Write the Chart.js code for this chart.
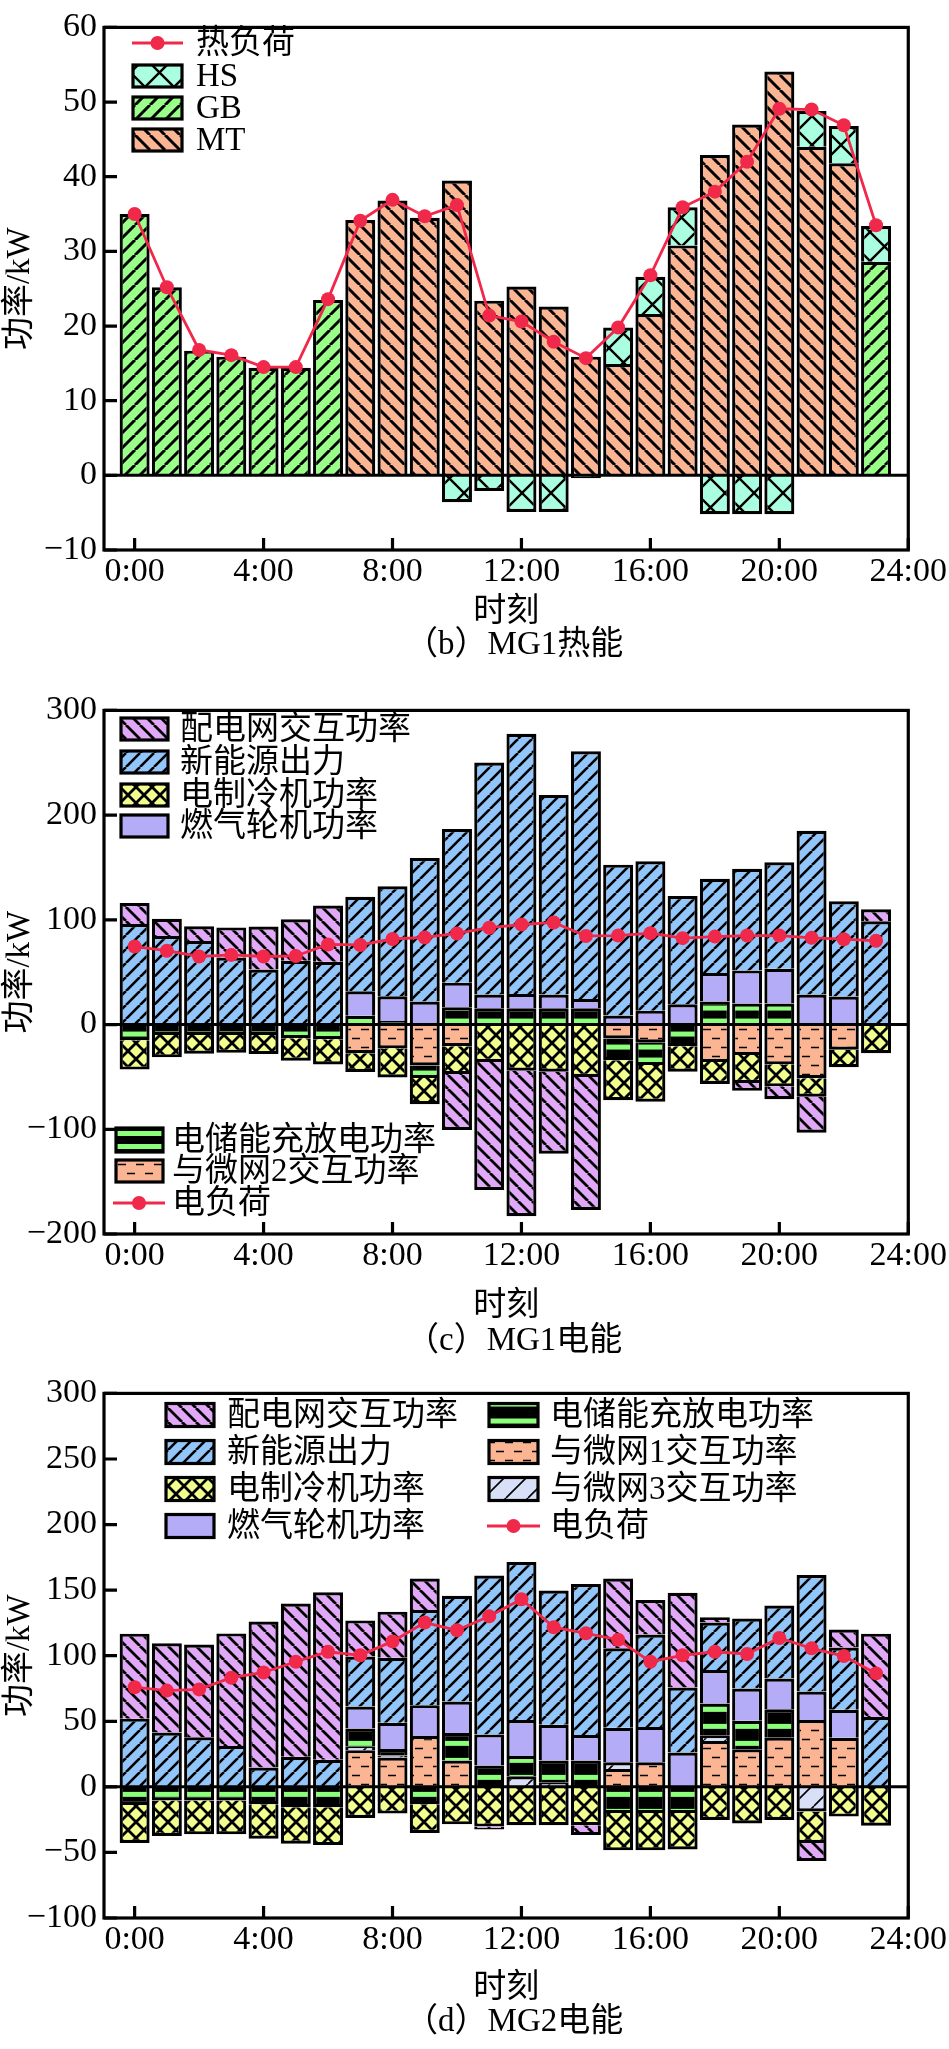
<!DOCTYPE html>
<html>
<head>
<meta charset="utf-8">
<script src="https://cdn.jsdelivr.net/npm/chart.js@4.4.0/dist/chart.umd.min.js"></script>
<style>
  html, body { margin: 0; padding: 0; background: #fff; }
  #wrap { position: relative; width: 949px; height: 2049px; }
  canvas { position: absolute; left: 0; }
</style>
</head>
<body>
<div id="wrap">
  <canvas id="chartB" width="949" height="683" style="top:0"></canvas>
  <canvas id="chartC" width="949" height="683" style="top:683px"></canvas>
  <canvas id="chartD" width="949" height="683" style="top:1366px"></canvas>
</div>
<script>
'use strict';

// ---- data ----
const hours  = [0,1,2,3,4,5,6,7,8,9,10,11,12,13,14,15,16,17,18,19,20,21,22,23];
const xTicks = [0, 4, 8, 12, 16, 20, 24];

// (b) MG1 heat
const yTicksB  = [-10, 0, 10, 20, 30, 40, 50, 60];
const gbHeat   = [35.0, 25.2, 16.7, 15.9, 14.4, 14.4, 23.5, 0, 0, 0, 0, 0, 0, 0, 0, 0, 0, 0, 0, 0, 0, 0, 0, 28.6];
const mtHeat   = [0, 0, 0, 0, 0, 0, 0, 34.2, 36.8, 34.5, 39.5, 23.4, 25.3, 22.6, 15.9, 14.9, 21.6, 30.8, 42.9, 47.0, 54.1, 44.0, 41.8, 0];
const hsHeat   = [0, 0, 0, 0, 0, 0, 0, 0, 0, 0, -3.6, -2.1, -4.9, -4.9, -0.4, 4.9, 5.0, 5.1, -5.2, -5.2, -5.2, 4.8, 5.0, 4.8];
const heatLoad = [35.0, 25.2, 16.8, 16.1, 14.5, 14.5, 23.6, 34.1, 36.9, 34.7, 36.2, 21.4, 20.6, 17.9, 15.7, 19.8, 26.8, 35.9, 38.0, 42.0, 49.1, 49.0, 46.9, 33.5];

// (c) MG1 electricity
const yTicksC    = [-200, -100, 0, 100, 200, 300];
const mg1Ex2     = [0, 0, 0, 0, 0, 0, 0, -27.3, -22.7, -39.0, -20.7, 0, 0, 0, 0, -13.3, -17.0, 0, -35.7, -29.0, -38.0, -51.3, -24.0, 0];
const mg1Storage = [-15, -10, -10, -10, -10, -13, -14, 8.4, 3.5, -12, 16.5, 15.5, 15.5, 15.5, 15.5, -20.7, -21.7, -20.7, 22, 20, 20, 0, 0, 0];
const mg1Chiller = [-28, -21.3, -17.8, -17, -18.2, -21.5, -24.2, -18, -27.9, -25, -26.6, -35.7, -44, -45, -50, -38.3, -35, -24.3, -21, -26.7, -21, -17.7, -16.7, -27.3];
const mg1Gt      = [0, 0, 0, 0, 0, 0, 0, 23.3, 23.5, 22, 23.5, 13.2, 13.8, 13.2, 8.8, 8.7, 13.3, 19.3, 27.3, 31.7, 33.3, 28.7, 26.7, 0];
const mg1Renew   = [96, 84.5, 79.8, 64, 52.5, 61, 60, 90.3, 105, 137, 146.7, 221.6, 248.4, 190.6, 236.7, 144, 142.7, 103.4, 90, 97, 101.7, 156.3, 91, 98.7];
const mg1Grid    = [20, 16.5, 14, 28.8, 41.1, 39.5, 53.6, 0, 0, 0, -53.4, -122.3, -139, -78.3, -127, 0, 0, 0, 0, -7.6, -12.3, -34.3, 0, 11.3];
const mg1Load    = [74.5, 70.5, 65, 66.5, 65, 65.5, 76.5, 76, 81.7, 83.2, 87, 92.5, 95.5, 97.5, 84.6, 85, 87.3, 82.5, 84, 85, 85, 82.8, 81.5, 80];

// (d) MG2 electricity
const yTicksD    = [-100, -50, 0, 50, 100, 150, 200, 250, 300];
const mg2Ex1     = [0, 0, 0, 0, 0, 0, 0, 28, 22.4, 38.7, 20, 0, 0, 0, 0, 13.7, 18.7, 0, 35, 28.7, 37.5, 51, 37.4, 0];
const mg2Ex3     = [0, 0, 0, 0, 0, 0, 0, 3, 1.5, 0, 0, 0, 8, 3.5, 0, 5, 0, 0, 4, 0, 0, -18.7, 0, 0];
const mg2Storage = [-13.8, -10.5, -10.5, -10.5, -13.2, -15.5, -15.5, 13.5, 5, -13.2, 21, 16.2, 15.5, 16.5, 20, -20, -20, -20, 24.5, 21.7, 21.7, 0, 0, 0];
const mg2Chiller = [-29, -27, -25.7, -25.7, -26.3, -27.9, -28.9, -23.7, -20.4, -22, -28.6, -30.3, -29.3, -29.3, -29.3, -28.4, -28.4, -27.7, -25.3, -28, -25.3, -24.1, -22.7, -29.6];
const mg2Gt      = [0, 0, 0, 0, 0, 0, 0, 16.8, 20, 23.6, 24, 23.8, 27.5, 27.4, 19.5, 26.3, 27, 26.2, 25.6, 24.6, 23.4, 21.7, 21.3, 0];
const mg2Renew   = [52, 41.4, 37.8, 31.2, 14.8, 23, 20.7, 38, 49.5, 72.6, 80.7, 121.2, 120.4, 102.3, 115.1, 60.6, 70.4, 49.5, 36.2, 53.3, 55.6, 88.8, 47.5, 53.3];
const mg2Grid    = [64.8, 68.1, 70.7, 85.8, 111.2, 116.8, 127.7, 27.6, 35.2, 24, 0, -2.3, 0, 0, -7.5, 53.3, 26.3, 72.3, 4, 0, 0, -13.8, 13.8, 63.5];
const mg2Load    = [76, 73.4, 74.3, 83.2, 87.2, 95.4, 103, 100.3, 110.9, 125.3, 119.4, 130, 143, 121.7, 117.1, 112.2, 95.4, 100.3, 103, 101.3, 113.5, 105.6, 99.7, 86.5];

// ---- styles ----
const FONT = '"Liberation Serif", "Noto Sans CJK SC", serif';
const RED = '#F0284A';
const W = 949, H = 683;

function hatch(ctx, bg, size, kind, lw) {
  const c = document.createElement('canvas');
  c.width = size; c.height = size;
  const g = c.getContext('2d');
  g.fillStyle = bg; g.fillRect(0, 0, size, size);
  g.strokeStyle = '#000'; g.lineWidth = lw;
  g.beginPath();
  for (const k of [-size, 0, size]) {
    if (kind === '/' || kind === 'x') { g.moveTo(k, size); g.lineTo(k + size, 0); }
    if (kind === '\\' || kind === 'x') { g.moveTo(k, 0); g.lineTo(k + size, size); }
  }
  g.stroke();
  return ctx.createPattern(c, 'repeat');
}

function dashes(ctx, bg) {
  const c = document.createElement('canvas');
  c.width = 18; c.height = 18;
  const g = c.getContext('2d');
  g.fillStyle = bg; g.fillRect(0, 0, 18, 18);
  g.strokeStyle = '#000'; g.lineWidth = 1.4;
  g.beginPath();
  g.moveTo(1, 4.5); g.lineTo(9, 4.5);
  g.moveTo(10, 13.5); g.lineTo(18, 13.5);
  g.stroke();
  return ctx.createPattern(c, 'repeat');
}

function stripes(ctx, period, g0, g1) {
  const c = document.createElement('canvas');
  c.width = 8; c.height = period;
  const g = c.getContext('2d');
  g.fillStyle = '#000'; g.fillRect(0, 0, 8, period);
  g.fillStyle = '#8CFF7A'; g.fillRect(0, g0, 8, g1 - g0);
  return ctx.createPattern(c, 'repeat');
}

function fills(ctx, stripeCfg) {
  return {
    gb:      hatch(ctx, '#99FF88', 15, '/', 3),
    mt:      hatch(ctx, '#FBB593', 15, '\\', 3),
    hs:      hatch(ctx, '#AAFFE1', 29, 'x', 2.4),
    grid:    hatch(ctx, '#E2A8F8', 14, '\\', 2.8),
    renew:   hatch(ctx, '#92C6FA', 14, '/', 2.6),
    chiller: hatch(ctx, '#F2FF8E', 16, 'x', 2.8),
    gt:      '#B4ACF6',
    ex:      dashes(ctx, '#FBB593'),
    ex3:     hatch(ctx, '#D8E0F8', 22, '/', 1.6),
    storage: stripes(ctx, stripeCfg[0], stripeCfg[1], stripeCfg[2])
  };
}

function bar(label, data, fill) {
  return {
    type: 'bar', label, data, backgroundColor: fill,
    borderColor: '#000', borderWidth: 3.2, borderSkipped: 'start',
    categoryPercentage: 1, barPercentage: 0.93, order: 1
  };
}

function loadLine(label, data) {
  return {
    type: 'line', label, data, stack: 'load', order: 0,
    borderColor: RED, borderWidth: 2.8, tension: 0,
    pointRadius: 7, pointBackgroundColor: RED, pointBorderWidth: 0
  };
}

function drawLegend(ctx, items) {
  ctx.save();
  for (const it of items) {
    if (it.kind === 'line') {
      ctx.strokeStyle = RED; ctx.lineWidth = 3;
      ctx.beginPath(); ctx.moveTo(it.x, it.y); ctx.lineTo(it.x + it.w, it.y); ctx.stroke();
      ctx.fillStyle = RED;
      ctx.beginPath(); ctx.arc(it.x + it.w / 2, it.y, 7, 0, Math.PI * 2); ctx.fill();
    } else {
      const top = it.y - it.h / 2;
      if (it.stripe) it.stripe.setTransform(new DOMMatrix([1, 0, 0, 1, 0, top + it.shift]));
      ctx.fillStyle = it.fill;
      ctx.fillRect(it.x, top, it.w, it.h);
      ctx.strokeStyle = '#000'; ctx.lineWidth = 3.2;
      ctx.strokeRect(it.x, top, it.w, it.h);
    }
    ctx.fillStyle = '#000';
    ctx.font = '33px ' + FONT;
    ctx.textAlign = 'left'; ctx.textBaseline = 'middle';
    ctx.fillText(it.text, it.tx, it.y + 1);
  }
  ctx.restore();
}

function decor(cfg) {
  return {
    id: 'decor',
    beforeDatasetsDraw(chart) {
      if (cfg.stripe) {
        const y0 = chart.scales.y.getPixelForValue(0);
        cfg.stripe.setTransform(new DOMMatrix([1, 0, 0, 1, 0, y0]));
      }
    },
    afterDatasetsDraw(chart) {
      const { ctx, chartArea: a, scales: { y } } = chart;
      const y0 = y.getPixelForValue(0);
      ctx.save();
      ctx.strokeStyle = '#000'; ctx.lineWidth = 3;
      ctx.beginPath(); ctx.moveTo(a.left, y0); ctx.lineTo(a.right, y0); ctx.stroke();
      ctx.restore();
    },
    afterDraw(chart) {
      const { ctx, chartArea: a, scales: { x, y } } = chart;
      ctx.save();
      ctx.strokeStyle = '#000'; ctx.lineWidth = 3.2;
      ctx.strokeRect(a.left, a.top, a.right - a.left, a.bottom - a.top);
      ctx.beginPath();
      for (const v of xTicks) {
        const px = x.getPixelForValue(v);
        ctx.moveTo(px, a.bottom); ctx.lineTo(px, a.bottom - 12);
      }
      for (const v of cfg.yTicks) {
        const py = y.getPixelForValue(v);
        ctx.moveTo(a.left, py); ctx.lineTo(a.left + 13, py);
      }
      ctx.stroke();

      ctx.fillStyle = '#000';
      ctx.font = '33px ' + FONT;
      ctx.textAlign = 'center'; ctx.textBaseline = 'middle';
      const cx = (a.left + a.right) / 2;
      ctx.fillText('时刻', cx, a.bottom + cfg.xTitleGap);
      ctx.fillText(cfg.caption, cx + 8, a.bottom + cfg.captionGap);

      ctx.translate(20, (a.top + a.bottom) / 2);
      ctx.rotate(-Math.PI / 2);
      ctx.fillText('功率/kW', 0, 0);
      ctx.restore();

      drawLegend(ctx, cfg.legend);
    }
  };
}

function makeChart(id, datasets, cfg) {
  const ctx = document.getElementById(id).getContext('2d');
  return new Chart(ctx, {
    data: { labels: hours, datasets },
    options: {
      responsive: false, animation: false, devicePixelRatio: 1, events: [],
      layout: { padding: { left: 0, right: W - 910, top: cfg.top, bottom: 0 } },
      plugins: { legend: { display: false }, tooltip: { enabled: false }, title: { display: false } },
      scales: {
        x: {
          type: 'linear', min: -0.95, max: 24, offset: false, stacked: true,
          grid: { display: false, drawTicks: false }, border: { display: false },
          afterBuildTicks: s => { s.ticks = xTicks.map(v => ({ value: v })); },
          afterFit: s => { s.height = H - cfg.bottom; },
          ticks: {
            color: '#000', font: { family: FONT, size: 34 }, padding: 2,
            maxRotation: 0, autoSkip: false, callback: v => v + ':00'
          }
        },
        y: {
          type: 'linear', min: cfg.yTicks[0], max: cfg.yTicks[cfg.yTicks.length - 1], stacked: true,
          grid: { display: false, drawTicks: false }, border: { display: false },
          afterBuildTicks: s => { s.ticks = cfg.yTicks.map(v => ({ value: v })); },
          afterFit: s => { s.width = 104; },
          ticks: {
            color: '#000', font: { family: FONT, size: 34 }, padding: 7,
            callback: v => String(v).replace('-', '\u2212')
          }
        }
      }
    },
    plugins: [decor(cfg)]
  });
}

// ---- (b) ----
(() => {
  const ctx = document.getElementById('chartB').getContext('2d');
  const f = fills(ctx, [13, 7, 12]);
  makeChart('chartB', [
    loadLine('热负荷', heatLoad),
    bar('GB', gbHeat, f.gb),
    bar('MT', mtHeat, f.mt),
    bar('HS', hsHeat, f.hs)
  ], {
    top: 12, bottom: 550, yTicks: yTicksB, caption: '（b）MG1热能', xTitleGap: 62, captionGap: 95,
    legend: [
      { kind: 'line', x: 132, y: 43, w: 51, text: '热负荷', tx: 196 },
      { kind: 'box', x: 133, y: 76, w: 49, h: 22, fill: f.hs, text: 'HS', tx: 196 },
      { kind: 'box', x: 133, y: 108, w: 49, h: 22, fill: f.gb, text: 'GB', tx: 196 },
      { kind: 'box', x: 133, y: 140, w: 49, h: 22, fill: f.mt, text: 'MT', tx: 196 }
    ]
  });
})();

// ---- (c) ----
(() => {
  const ctx = document.getElementById('chartC').getContext('2d');
  const f = fills(ctx, [13, 7, 12]);
  makeChart('chartC', [
    loadLine('电负荷', mg1Load),
    bar('与微网2交互功率', mg1Ex2, f.ex),
    bar('电储能充放电功率', mg1Storage, f.storage),
    bar('电制冷机功率', mg1Chiller, f.chiller),
    bar('燃气轮机功率', mg1Gt, f.gt),
    bar('新能源出力', mg1Renew, f.renew),
    bar('配电网交互功率', mg1Grid, f.grid)
  ], {
    top: 10, bottom: 551, yTicks: yTicksC, caption: '（c）MG1电能', xTitleGap: 72, captionGap: 107,
    stripe: f.storage,
    legend: [
      { kind: 'box', x: 121, y: 46, w: 47, h: 22, fill: f.grid, text: '配电网交互功率', tx: 180 },
      { kind: 'box', x: 121, y: 79, w: 47, h: 22, fill: f.renew, text: '新能源出力', tx: 180 },
      { kind: 'box', x: 121, y: 112, w: 47, h: 22, fill: f.chiller, text: '电制冷机功率', tx: 180 },
      { kind: 'box', x: 121, y: 143, w: 47, h: 22, fill: f.gt, text: '燃气轮机功率', tx: 180 },
      { kind: 'box', x: 116, y: 457, w: 47, h: 24, fill: f.storage, stripe: f.storage, shift: -4, text: '电储能充放电功率', tx: 172 },
      { kind: 'box', x: 116, y: 488, w: 47, h: 22, fill: f.ex, text: '与微网2交互功率', tx: 172 },
      { kind: 'line', x: 113, y: 520, w: 52, text: '电负荷', tx: 172 }
    ]
  });
})();

// ---- (d) ----
(() => {
  const ctx = document.getElementById('chartD').getContext('2d');
  const f = fills(ctx, [17, 5, 10]);
  makeChart('chartD', [
    loadLine('电负荷', mg2Load),
    bar('与微网1交互功率', mg2Ex1, f.ex),
    bar('与微网3交互功率', mg2Ex3, f.ex3),
    bar('电储能充放电功率', mg2Storage, f.storage),
    bar('电制冷机功率', mg2Chiller, f.chiller),
    bar('燃气轮机功率', mg2Gt, f.gt),
    bar('新能源出力', mg2Renew, f.renew),
    bar('配电网交互功率', mg2Grid, f.grid)
  ], {
    top: 13, bottom: 552, yTicks: yTicksD, caption: '（d）MG2电能', xTitleGap: 70, captionGap: 104,
    stripe: f.storage,
    legend: [
      { kind: 'box', x: 166, y: 49, w: 48, h: 23, fill: f.grid, text: '配电网交互功率', tx: 227 },
      { kind: 'box', x: 166, y: 86, w: 48, h: 23, fill: f.renew, text: '新能源出力', tx: 227 },
      { kind: 'box', x: 166, y: 123, w: 48, h: 23, fill: f.chiller, text: '电制冷机功率', tx: 227 },
      { kind: 'box', x: 166, y: 160, w: 48, h: 23, fill: f.gt, text: '燃气轮机功率', tx: 227 },
      { kind: 'box', x: 489, y: 49, w: 49, h: 23, fill: f.storage, stripe: f.storage, shift: 10, text: '电储能充放电功率', tx: 550 },
      { kind: 'box', x: 489, y: 86, w: 49, h: 23, fill: f.ex, text: '与微网1交互功率', tx: 550 },
      { kind: 'box', x: 489, y: 123, w: 49, h: 23, fill: f.ex3, text: '与微网3交互功率', tx: 550 },
      { kind: 'line', x: 487, y: 160, w: 53, text: '电负荷', tx: 550 }
    ]
  });
})();
</script>
</body>
</html>
